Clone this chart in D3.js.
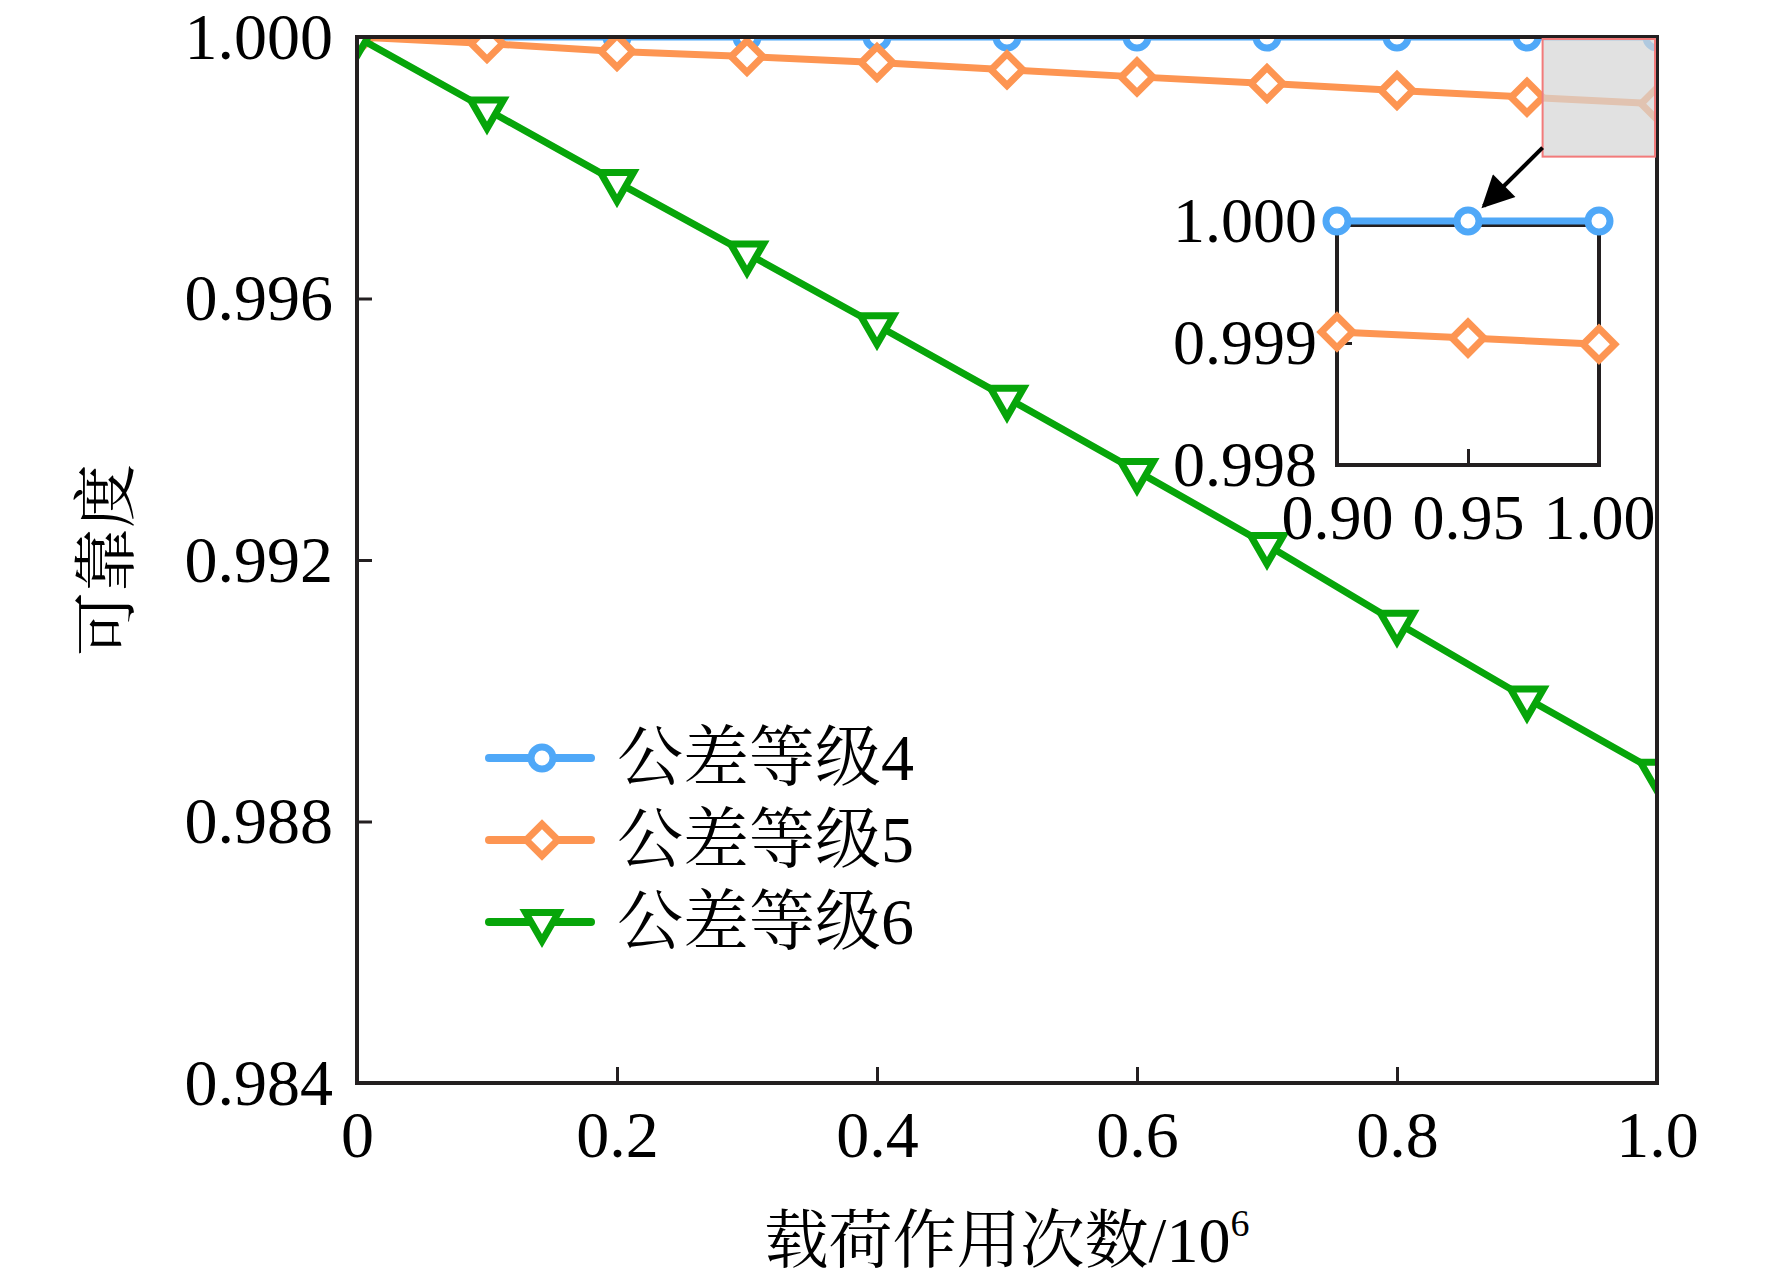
<!DOCTYPE html>
<html>
<head>
<meta charset="utf-8">
<script src="https://cdn.jsdelivr.net/npm/d3@7/dist/d3.min.js"></script>
<style>
  body { margin: 0; background: #fff; }
  text { font-family: "Liberation Serif", "Times New Roman", "Noto Serif CJK SC", "Noto Sans CJK SC", serif; fill: #000; }
</style>
</head>
<body>
<script>
// load cycles (x 10^6)
const loads = [0, 0.1, 0.2, 0.3, 0.4, 0.5, 0.6, 0.7, 0.8, 0.9, 1.0];
// reliability per tolerance grade
const grade4 = [1, 1, 1, 1, 1, 1, 1, 1, 1, 1, 1];
const grade5 = [1.0, 0.9999, 0.99978, 0.9997, 0.99961, 0.9995, 0.99939, 0.99929, 0.99918, 0.99908, 0.99898];
const grade6 = [1.0, 0.99889, 0.99778, 0.99669, 0.99559, 0.99448, 0.99336, 0.99223, 0.99104, 0.98988, 0.98876];

// zoomed inset
const insetLoads = [0.90, 0.95, 1.00];
const inset4 = [1, 1, 1];
const inset5 = [0.99909, 0.99904, 0.99899];

const seriesNames = ["公差等级4", "公差等级5", "公差等级6"];
const xTicks = [0, 0.2, 0.4, 0.6, 0.8, 1.0];
const yTicks = [0.984, 0.988, 0.992, 0.996, 1.000];
const insetXTicks = [0.90, 0.95, 1.00];
const insetYTicks = [0.998, 0.999, 1.000];

const colors = ["#4fa8f8", "#fd9552", "#07a50a"];
const markers = ["circle", "diamond", "triangle"];
const axisColor = "#231f20";

const W = 1772, H = 1285;
const svg = d3.select("body").append("svg")
  .attr("width", W).attr("height", H)
  .style("background", "#fff");

// main plot area
const plot = { left: 357, right: 1657, top: 37, bottom: 1083 };
const x = d3.scaleLinear().domain([0, 1]).range([plot.left, plot.right]);
const y = d3.scaleLinear().domain([0.984, 1.0]).range([plot.bottom, plot.top]);

svg.append("defs").append("clipPath").attr("id", "plotclip")
  .append("rect")
  .attr("x", plot.left).attr("y", plot.top)
  .attr("width", plot.right - plot.left).attr("height", plot.bottom - plot.top);

function markerPath(type) {
  if (type === "diamond") return d3.symbol(d3.symbolSquare, 500)();
  if (type === "triangle") return d3.symbol(d3.symbolTriangle, 470)();
  return null;
}

function drawMarker(g, type, color, cx, cy) {
  if (type === "circle") {
    g.append("circle").attr("cx", cx).attr("cy", cy).attr("r", 11)
      .attr("fill", "#fff").attr("stroke", color).attr("stroke-width", 7);
  } else {
    const rot = type === "diamond" ? 45 : 180;
    g.append("path").attr("d", markerPath(type))
      .attr("transform", `translate(${cx},${cy}) rotate(${rot})`)
      .attr("fill", "#fff").attr("stroke", color).attr("stroke-width", 7)
      .attr("stroke-linejoin", "miter");
  }
}

function drawSeries(g, xs, ys, xScale, yScale, color, type) {
  const pts = xs.map((d, i) => [d, ys[i]]);
  g.append("path")
    .datum(pts)
    .attr("fill", "none")
    .attr("stroke", color)
    .attr("stroke-width", 7)
    .attr("stroke-linejoin", "round")
    .attr("d", d3.line().x(d => xScale(d[0])).y(d => yScale(d[1])));
  pts.forEach(p => drawMarker(g, type, color, xScale(p[0]), yScale(p[1])));
}

// axes (inward ticks)
const xAxis = d3.axisBottom(x).tickValues(xTicks)
  .tickFormat(d => d === 0 ? "0" : d3.format(".1f")(d))
  .tickSizeInner(-16).tickSizeOuter(0).tickPadding(27);
const yAxis = d3.axisLeft(y).tickValues(yTicks)
  .tickFormat(d3.format(".3f"))
  .tickSizeInner(-15).tickSizeOuter(0).tickPadding(24);

const gx = svg.append("g").attr("transform", `translate(0,${plot.bottom})`).call(xAxis);
const gy = svg.append("g").attr("transform", `translate(${plot.left},0)`).call(yAxis);
[gx, gy].forEach(g => {
  g.select(".domain").remove();
  g.selectAll(".tick line").attr("stroke", axisColor).attr("stroke-width", 3);
  g.selectAll(".tick text").attr("font-size", 66).attr("fill", "#000")
    .style("font-family", "'Liberation Serif', serif");
});

// series in main plot, clipped to the frame
const series = svg.append("g").attr("clip-path", "url(#plotclip)");
[grade4, grade5, grade6].forEach((vals, i) => {
  drawSeries(series, loads, vals, x, y, colors[i], markers[i]);
});

// frame
svg.append("rect")
  .attr("x", plot.left).attr("y", plot.top)
  .attr("width", plot.right - plot.left).attr("height", plot.bottom - plot.top)
  .attr("fill", "none").attr("stroke", axisColor).attr("stroke-width", 4);

// zoom window marker
const zoomX = [0.912, 1.0], zoomY = [0.99817, 1.0];
svg.append("rect")
  .attr("x", x(zoomX[0])).attr("y", y(zoomY[1]) + 2)
  .attr("width", x(zoomX[1]) - x(zoomX[0]) - 2)
  .attr("height", y(zoomY[0]) - y(zoomY[1]) - 2)
  .attr("fill", "#d6d6d6").attr("fill-opacity", 0.72)
  .attr("stroke", "#f27a7a").attr("stroke-width", 2);

// inset
const inset = { left: 1337, right: 1599, top: 221, bottom: 465 };
const ix = d3.scaleLinear().domain([0.9, 1.0]).range([inset.left, inset.right]);
const iy = d3.scaleLinear().domain([0.998, 1.0]).range([inset.bottom, inset.top]);

svg.append("rect")
  .attr("x", inset.left).attr("y", inset.top + 4)
  .attr("width", inset.right - inset.left).attr("height", inset.bottom - inset.top - 4)
  .attr("fill", "#fff").attr("stroke", axisColor).attr("stroke-width", 4);

const ixAxis = d3.axisBottom(ix).tickValues(insetXTicks).tickFormat(d3.format(".2f"))
  .tickSizeInner(-16).tickSizeOuter(0).tickPadding(29);
const iyAxis = d3.axisLeft(iy).tickValues(insetYTicks).tickFormat(d3.format(".3f"))
  .tickSizeInner(-15).tickSizeOuter(0).tickPadding(20);
const gix = svg.append("g").attr("transform", `translate(0,${inset.bottom})`).call(ixAxis);
const giy = svg.append("g").attr("transform", `translate(${inset.left},0)`).call(iyAxis);
[gix, giy].forEach(g => {
  g.select(".domain").remove();
  g.selectAll(".tick line").attr("stroke", axisColor).attr("stroke-width", 3)
    .attr("opacity", (d, i, n) => (i === 1 ? 1 : 0));
  g.selectAll(".tick text").attr("font-size", 64).attr("fill", "#000")
    .style("font-family", "'Liberation Serif', serif");
});

const insetSeries = svg.append("g");
drawSeries(insetSeries, insetLoads, inset4, ix, iy, colors[0], markers[0]);
drawSeries(insetSeries, insetLoads, inset5, ix, iy, colors[1], markers[1]);

// arrow from zoom window to inset
svg.append("defs").append("marker")
  .attr("id", "arrowhead")
  .attr("viewBox", "0 0 10 10").attr("refX", 9).attr("refY", 5)
  .attr("markerWidth", 10).attr("markerHeight", 8)
  .attr("markerUnits", "userSpaceOnUse")
  .attr("orient", "auto")
  .append("path").attr("d", "M0,0 L10,5 L0,10 Z").attr("fill", "#000");
svg.select("#arrowhead").attr("markerWidth", 40).attr("markerHeight", 32);
svg.append("line")
  .attr("x1", x(zoomX[0])).attr("y1", y(zoomY[0]) - 9)
  .attr("x2", ix(0.956)).attr("y2", inset.top - 15)
  .attr("stroke", "#000").attr("stroke-width", 4)
  .attr("marker-end", "url(#arrowhead)");

// legend
const legend = svg.append("g");
seriesNames.forEach((name, i) => {
  const ly = 758 + i * 82;
  legend.append("line")
    .attr("x1", 489).attr("x2", 591).attr("y1", ly).attr("y2", ly)
    .attr("stroke", colors[i]).attr("stroke-width", 8).attr("stroke-linecap", "round");
  drawMarker(legend, markers[i], colors[i], 542, ly);
  legend.append("text")
    .attr("x", 617).attr("y", ly + 22)
    .attr("font-size", 66)
    .text(name);
});

// axis titles
const xt = svg.append("text")
  .attr("x", (plot.left + plot.right) / 2).attr("y", 1262)
  .attr("text-anchor", "middle").attr("font-size", 64);
xt.append("tspan").text("载荷作用次数/10");
xt.append("tspan").attr("font-size", 38).attr("dy", -26).text("6");

svg.append("text")
  .attr("transform", "translate(128,560) rotate(-90)")
  .attr("text-anchor", "middle").attr("font-size", 64)
  .text("可靠度");
</script>
</body>
</html>
